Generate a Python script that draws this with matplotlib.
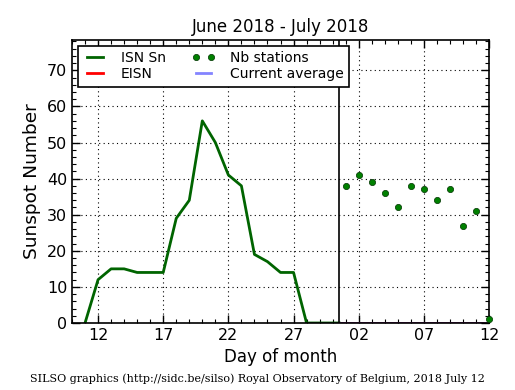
import matplotlib
matplotlib.use('Agg')
import matplotlib.pyplot as plt
from matplotlib.ticker import MultipleLocator, FixedLocator
import numpy as np

# day index: June d -> d, July d -> 30 + d
isn_days = [11, 12, 13, 14, 15, 16, 17, 18, 19, 20, 21, 22, 23, 24, 25, 26, 27, 28, 29, 30, 30.5]
isn_vals = [0, 12, 15, 15, 14, 14, 14, 29, 34, 56, 50, 41, 38, 19, 17, 14, 14, 0, 0, 0, 0]

eisn_days = [30.5, 42]
eisn_vals = [0, 0]

nb_days = [31, 32, 33, 34, 35, 36, 37, 38, 39, 40, 41, 42]
nb_vals = [38, 41, 39, 36, 32, 38, 37, 34, 37, 27, 31, 1]

tick_pos = [12, 17, 22, 27, 32, 37, 42]
tick_labels = ['12', '17', '22', '27', '02', '07', '12']

fig = plt.figure(figsize=(5.15, 3.9), dpi=100)
ax = fig.add_axes([72/515, 1 - 323/390, (489-72)/515, (323-40)/390])

ax.plot(isn_days, isn_vals, color='#006400', linewidth=2, label='ISN Sn')
ax.plot(eisn_days, eisn_vals, color='red', linewidth=2, label='EISN')
ax.plot(nb_days, nb_vals, linestyle='none', marker='o', markersize=4.5,
        color='green', markeredgecolor='#003300', markeredgewidth=0.5,
        label='Nb stations', clip_on=False, zorder=5)
ax.plot(eisn_days, eisn_vals, color='#3333ff', linewidth=2, alpha=0.6, label='Current average')
ax.axvline(30.5, color='black', linewidth=1.2)

ax.set_xlim(10, 42)
ax.set_ylim(0, 78.4)
ax.xaxis.set_major_locator(FixedLocator(tick_pos))
ax.set_xticklabels(tick_labels)
ax.xaxis.set_minor_locator(MultipleLocator(1))
ax.yaxis.set_major_locator(MultipleLocator(10))
ax.yaxis.set_minor_locator(MultipleLocator(2))
ax.tick_params(which='both', direction='in', top=True, right=True, labelsize=11.5)
ax.tick_params(which='major', length=6, width=1)
ax.tick_params(which='minor', length=3, width=0.8)
for s in ax.spines.values():
    s.set_linewidth(1.2)
ax.grid(True, which='major', linestyle=(0, (1, 3)), color='black', linewidth=0.8)

ax.set_title('June 2018 - July 2018', fontsize=12)
ax.set_xlabel('Day of month', fontsize=12)
ax.set_ylabel('Sunspot Number', fontsize=13.3)

leg = ax.legend(loc='upper left', ncol=2, fontsize=10, frameon=True, fancybox=False,
                borderaxespad=0.4, handlelength=1.7, handletextpad=1.0,
                columnspacing=1.9, labelspacing=0.15, borderpad=0.4, numpoints=2)
leg.get_frame().set_edgecolor('black')
leg.get_frame().set_linewidth(1.2)
leg.get_frame().set_alpha(1)

fig.text(0.5, 0.015, 'SILSO graphics (http://sidc.be/silso) Royal Observatory of Belgium, 2018 July 12',
         ha='center', va='bottom', fontsize=8, family='DejaVu Serif')

plt.savefig('out.png', dpi=100)
